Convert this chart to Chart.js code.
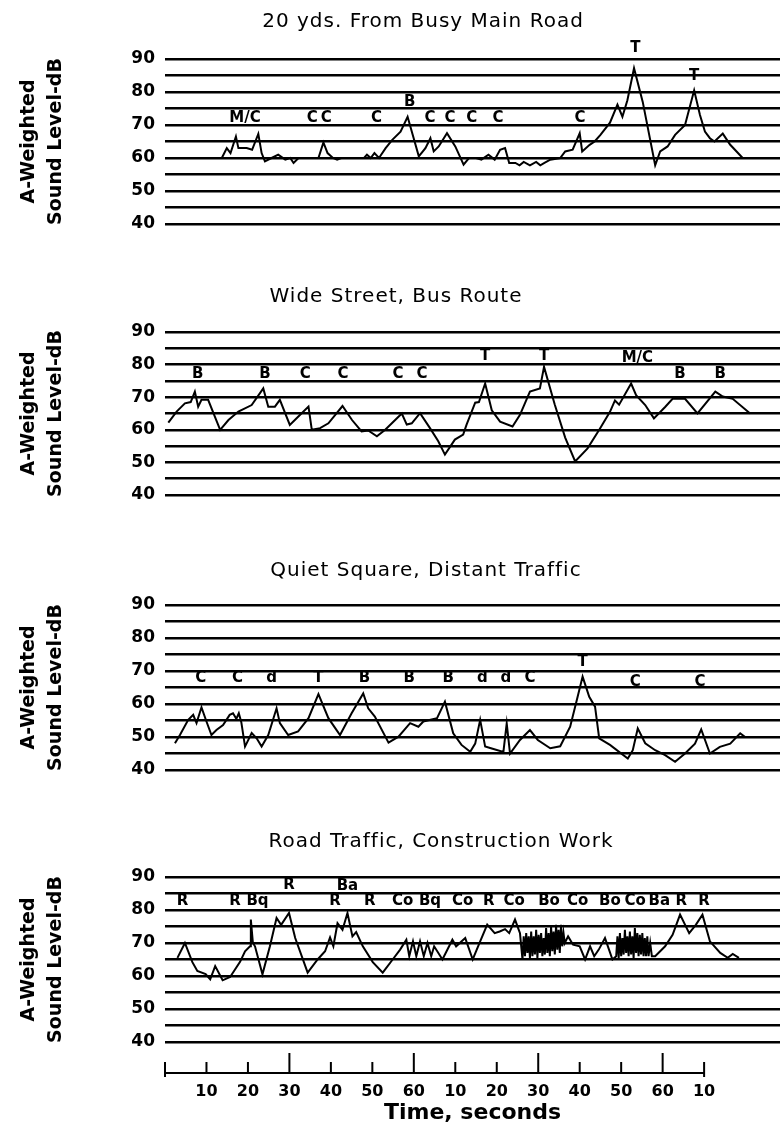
<!DOCTYPE html>
<html>
<head>
<meta charset="utf-8">
<script src="https://cdn.jsdelivr.net/npm/chart.js@4.4.1/dist/chart.umd.min.js"></script>
<style>
  body { margin: 0; background: #fff; width: 784px; height: 1134px; position: relative; overflow: hidden; }
  canvas { position: absolute; left: 0; }
</style>
</head>
<body>
<canvas id="c1" width="784" height="260" style="top:0px"></canvas>
<canvas id="c2" width="784" height="265" style="top:265px"></canvas>
<canvas id="c3" width="784" height="265" style="top:540px"></canvas>
<canvas id="c4" width="784" height="324" style="top:810px"></canvas>
<script>
// ---- data (time in seconds, level in dB) ----
var gridLevels = [40, 45, 50, 55, 60, 65, 70, 75, 80, 85, 90];
var timeTickSec = [10, 20, 30, 40, 50, 60, 70, 80, 90, 100, 110, 120, 130];
var timeTickLabels = ['10', '20', '30', '40', '50', '60', '10', '20', '30', '40', '50', '60', '10'];
var timeMarks = [0, 10, 20, 30, 40, 50, 60, 70, 80, 90, 100, 110, 120, 130];

var titles = ['20 yds. From Busy Main Road', 'Wide Street, Bus Route',
              'Quiet Square, Distant Traffic', 'Road Traffic, Construction Work'];

var mainRoadSec = [13.7,14.9,15.8,17.1,17.7,19.7,21,22.5,23.3,24.1,25.7,27.3,29,30.2,31,32.2,37,38.2,39.2,40.5,
  41.5,42.5,48,48.7,49.6,50.5,51.6,53.2,54.8,56.8,58.5,61.2,62.8,64,64.8,66,68,70,72,73.3,75,76.3,78,79.5,80.8,
  82,83,84.5,85.5,86.5,88,89.5,90.5,91.5,92.9,95.3,96.5,98.3,100,100.6,102.4,103.6,105,107.3,109.1,110.3,111.5,
  113.1,115.2,118.2,119.4,121.2,123,125.4,127.6,129,130.2,131.4,132.5,134.5,136.3,139.3];
var mainRoadDb = [60,63,61.5,66.5,63,63,62.5,67.3,61.5,59,60,61,59.5,60,58.5,60,60,64.7,61.5,60,
  59.5,60,60,61,60,61.5,60,63,65.5,68,72.5,60.5,63,66,62,63.5,67.5,63.5,58,60,60,59.5,61,59.5,62.5,
  63,58.5,58.5,57.8,58.8,57.8,58.8,57.8,58.5,59.5,60,62,62.5,67.5,62,64,65,67,70.7,76.2,72.5,77.5,
  87.2,77,57.8,62,63.5,67,70,80.5,73,68,66,65,67.4,64,60];
var mainRoadTags = ['M/C','C','C','C','B','C','C','C','C','C','T','T'];
var mainRoadTagSec = [19.3,35.5,38.9,51,59,63.9,68.7,74,80.3,100.1,113.4,127.6];
var mainRoadTagDb = [72,72,72,72,77,72,72,72,72,72,93.4,84.8];

var busRouteSec = [0.8,2.8,4.8,6.2,7.2,8,8.8,10.4,13.3,15.3,17.7,20.9,23.7,24.9,26.5,27.7,30.1,32.1,34.6,35.4,
  37.4,39.4,42.8,45.1,47.4,49,51.1,53.1,55.5,57.1,58.3,59.5,61.5,63.9,65.9,67.5,69.9,71.9,72.7,74.8,75.7,77.2,
  78.8,80.8,83.8,85.6,88,90.4,91.4,94,96.5,98.9,101.9,104.9,107.3,108.5,109.5,112.4,113.6,115.8,117.9,120.6,
  122.4,125.4,128.4,132.7,134.5,136.9,141.1];
var busRouteDb = [62.2,65.6,68.1,68.5,71.7,67.1,69.2,69.2,60,63,65.6,67.6,72.7,67.1,67.1,69.2,61.5,64,67.1,60,
  60.5,62,67.3,63,59.5,59.8,58,60,63,65,61.6,62,65.1,60.5,56.5,52.4,57,58.5,61.5,68.3,68.5,74.2,
  66,62.5,61,64.6,71.7,72.7,79.3,67.7,57.6,50.3,54.3,60.4,65.5,69,67.7,74.2,70.6,67.6,63.5,67,
  69.5,69.5,65,71.7,70.2,69.5,65];
var busRouteTags = ['B','B','C','C','C','C','T','T','M/C','B','B'];
var busRouteTagSec = [7.9,24.1,33.8,42.9,56.2,62,77.2,91.4,113.9,124.2,133.9];
var busRouteTagDb = [77,77,77,77,77,77,82.5,82.5,82,77,77];

var quietSec = [2.4,3.6,5.6,6.8,7.6,8.8,10,11.2,12.4,14,15.6,16.4,17.2,17.8,18.4,19.3,20.9,22.1,23.3,24.9,
  26.9,27.7,29.7,32.1,34.6,37,39.4,42.2,45,47.8,49,50.6,53.9,56.3,59.1,61.1,62.3,65.6,67.5,69.5,71.5,73.6,
  74.8,76,77.2,78.8,81.6,82.4,83.2,85.6,88,89.9,92.9,95.3,97.7,99.5,100.7,102.3,103.7,104.7,107.3,111.6,
  112.8,114,115.8,118.2,120.6,123,125.4,127.8,129.3,131.4,133.8,136.3,138.7,139.9];
var quietDb = [48.1,50.6,55.2,56.7,54.2,59,54.7,50.6,52.1,53.6,56.7,57.2,55.5,57.2,54.5,47.1,51.2,49.6,47.1,50.6,
  58.7,54.2,50.6,51.7,55.7,63,55.7,50.6,57.2,63.2,58.7,56.2,48.3,50.1,54.2,53.1,54.7,55.7,60.7,51.1,47.6,45.5,
  48,55.2,47.1,46.5,45.5,54.1,45,49.1,52.1,49.1,46.6,47.2,53.1,62.2,68.3,62.2,59.2,49.6,47.6,43.5,
  46,52.6,48.1,46,44.5,42.5,45,48,52.3,45,47,48,51.1,50];
var quietTags = ['C','C','d','T','B','B','B','d','d','C','T','C','C'];
var quietTagSec = [8.6,17.5,25.7,37,48.1,58.9,68.3,76.5,82.2,88,100.7,113.4,129];
var quietTagDb = [67.9,67.9,67.9,67.9,67.9,67.9,67.9,67.9,67.9,67.9,72.7,66.6,66.6];

var constructionSec = [3,4.8,6.6,7.8,9.8,10.9,12.1,13.9,15.7,18.1,19.3,20.5,20.7,21.2,21.7,23.5,25.3,26.9,28,29.9,
  31.4,34.4,36.8,38.6,39.8,40.6,41.6,42.8,44,45.2,46.1,47.7,50.1,52.5,54.9,56.7,58.2,58.9,59.8,60.6,
  61.5,62.4,63.3,64.2,64.9,66.9,69.3,70.2,72.4,74.2,76,77.7,79.5,80.7,82,83,84.4,85.6,86.2,
  86.5,86.8,87.1,87.4,87.7,88,88.3,88.6,88.9,89.2,89.5,89.8,90.1,90.4,90.7,91,91.3,91.6,91.9,92.2,
  92.5,92.8,93.1,93.4,93.7,94,94.3,94.6,94.9,95.2,95.5,95.8,96.1,96.4,
  97.2,98.4,100,101.3,102.5,103.5,104.6,106.1,107.9,
  108.8,109.1,109.4,109.7,110,110.3,110.6,110.9,111.2,111.5,111.8,112.1,112.4,112.7,113,113.3,113.6,113.9,
  114.2,114.5,114.8,115.1,115.4,115.7,116,116.3,116.6,117,117.4,
  118.2,120.6,122.4,124.2,126.4,128,129.6,131.4,133.9,135.7,136.9,138.4];
var constructionDb = [65.5,70,64.2,61.5,60.6,59,63,58.7,59.7,64.3,67.5,69,77.1,70,69,60.5,69,77.6,75.5,79.1,
  71.5,61,65,67.5,71.7,69,76,74,79.1,72,73.3,69,64.2,61,65,68,71,66,70.5,66,
  70.5,66,70,66,69,65,71,69,71.5,65,70.5,75.6,73,73.5,74.2,73,77.1,73,65,
  72,66,73,67,72,65.5,73.5,66,72,66.5,74,65.5,72.5,67,73,66,71.5,66.5,74.5,67,
  73,66,75,67.5,73.5,66.5,75.5,68,74,67,75.5,69,73,70,
  72,69.5,69,65,69,66,68,71.5,65,
  66,72,65.5,73,66,71.5,66.5,74,67,72,66,73.5,66.5,72,65.5,74.5,67,73,
  66,72.5,66.5,73,66,71.5,66,72,66,70,66,
  66,69,72.5,78.6,73,75.5,78.6,70.5,67,65.5,66.7,65.5];
var constructionTags = ['R','R','Bq','R','R','Ba','R','Co','Bq','Co','R','Co','Bo','Co','Bo','Co','Ba','R','R'];
var constructionTagSec = [4.2,16.9,22.3,29.9,41,44,49.4,57.3,63.9,71.8,78.1,84.2,92.6,99.5,107.3,113.4,119.2,124.5,130];
var constructionTagDb = [82.6,82.6,82.6,87.6,82.6,87.2,82.6,82.6,82.6,82.6,82.6,82.6,82.6,82.6,82.6,82.6,82.6,82.6,82.6];

Chart.defaults.font.family = "'DejaVu Sans', sans-serif";
Chart.defaults.color = '#000';
Chart.defaults.animation = false;

function pts(sec, db) {
  return sec.map(function (s, i) { return { x: s, y: db[i] }; });
}

function makePanel(id, p) {
  var textPlugin = {
    id: 'panelText',
    afterDraw: function (chart) {
      var ctx = chart.ctx, xs = chart.scales.x, ys = chart.scales.y;
      ctx.save();
      ctx.fillStyle = '#000';
      ctx.strokeStyle = '#000';
      ctx.textAlign = 'center';
      ctx.textBaseline = 'middle';
      ctx.font = '20px "DejaVu Sans"';
      ctx.letterSpacing = '1px';
      ctx.fillText(p.title, p.titleX, p.titleY);
      ctx.letterSpacing = '0px';
      ctx.font = 'bold 15px "DejaVu Sans"';
      p.tags.forEach(function (t, i) {
        ctx.fillText(t, xs.getPixelForValue(p.tagSec[i]), ys.getPixelForValue(p.tagDb[i]));
      });
      if (p.timeAxis) {
        var base = chart.chartArea.bottom + 31;
        ctx.lineWidth = 2;
        ctx.beginPath();
        ctx.moveTo(xs.getPixelForValue(0), base);
        ctx.lineTo(xs.getPixelForValue(130), base);
        timeMarks.forEach(function (s) {
          var x = xs.getPixelForValue(s);
          if (s === 0 || s === 130) {
            ctx.moveTo(x, base - 11); ctx.lineTo(x, base + 4);
          } else {
            ctx.moveTo(x, base); ctx.lineTo(x, base - (s % 30 === 0 ? 20 : 11));
          }
        });
        ctx.stroke();
      }
      ctx.restore();
    }
  };

  return new Chart(document.getElementById(id), {
    type: 'line',
    data: {
      datasets: [{
        data: pts(p.sec, p.db),
        borderColor: '#000',
        borderWidth: 2,
        pointRadius: 0,
        tension: 0,
        fill: false
      }]
    },
    options: {
      responsive: false,
      animation: false,
      layout: { padding: { top: p.padTop, bottom: p.padBottom, left: 0, right: 4 } },
      plugins: { legend: { display: false }, tooltip: { enabled: false }, title: { display: false } },
      scales: {
        x: {
          type: 'linear',
          min: 0,
          max: 148.3,
          display: p.timeAxis,
          grid: { display: false },
          border: { display: false },
          afterBuildTicks: function (scale) {
            scale.ticks = timeTickSec.map(function (v) { return { value: v }; });
          },
          afterFit: function (scale) { scale.height = p.timeAxis ? 92 : 0; },
          ticks: {
            autoSkip: false,
            maxRotation: 0,
            padding: 32,
            font: { size: 16, weight: 'bold' },
            callback: function (v, i) { return timeTickLabels[i]; }
          },
          title: {
            display: true,
            text: 'Time, seconds',
            font: { size: 22, weight: 'bold' },
            padding: { top: 0, bottom: 8 }
          }
        },
        y: {
          min: 40,
          max: 90,
          afterBuildTicks: function (scale) {
            scale.ticks = gridLevels.map(function (v) { return { value: v }; });
          },
          afterFit: function (scale) { scale.width = 165; },
          grid: { color: '#000', lineWidth: 2.5, drawTicks: false },
          border: { display: false },
          ticks: {
            autoSkip: false,
            padding: 10,
            font: { size: 17, weight: 'bold' },
            callback: function (v) { return v % 10 === 0 ? v : ''; }
          },
          title: {
            display: true,
            text: ['A-Weighted', 'Sound Level-dB'],
            font: { size: 19, weight: 'bold', lineHeight: 1.45 },
            padding: { top: 15, bottom: 0 }
          }
        }
      }
    },
    plugins: [textPlugin]
  });
}

makePanel('c1', { sec: mainRoadSec, db: mainRoadDb, tags: mainRoadTags, tagSec: mainRoadTagSec, tagDb: mainRoadTagDb,
  title: titles[0], titleX: 423, titleY: 22, padTop: 59, padBottom: 36, timeAxis: false });
makePanel('c2', { sec: busRouteSec, db: busRouteDb, tags: busRouteTags, tagSec: busRouteTagSec, tagDb: busRouteTagDb,
  title: titles[1], titleX: 396, titleY: 32, padTop: 67, padBottom: 35, timeAxis: false });
makePanel('c3', { sec: quietSec, db: quietDb, tags: quietTags, tagSec: quietTagSec, tagDb: quietTagDb,
  title: titles[2], titleX: 426, titleY: 31, padTop: 65, padBottom: 35, timeAxis: false });
makePanel('c4', { sec: constructionSec, db: constructionDb, tags: constructionTags, tagSec: constructionTagSec, tagDb: constructionTagDb,
  title: titles[3], titleX: 441, titleY: 32, padTop: 67, padBottom: 0, timeAxis: true });
</script>
</body>
</html>
